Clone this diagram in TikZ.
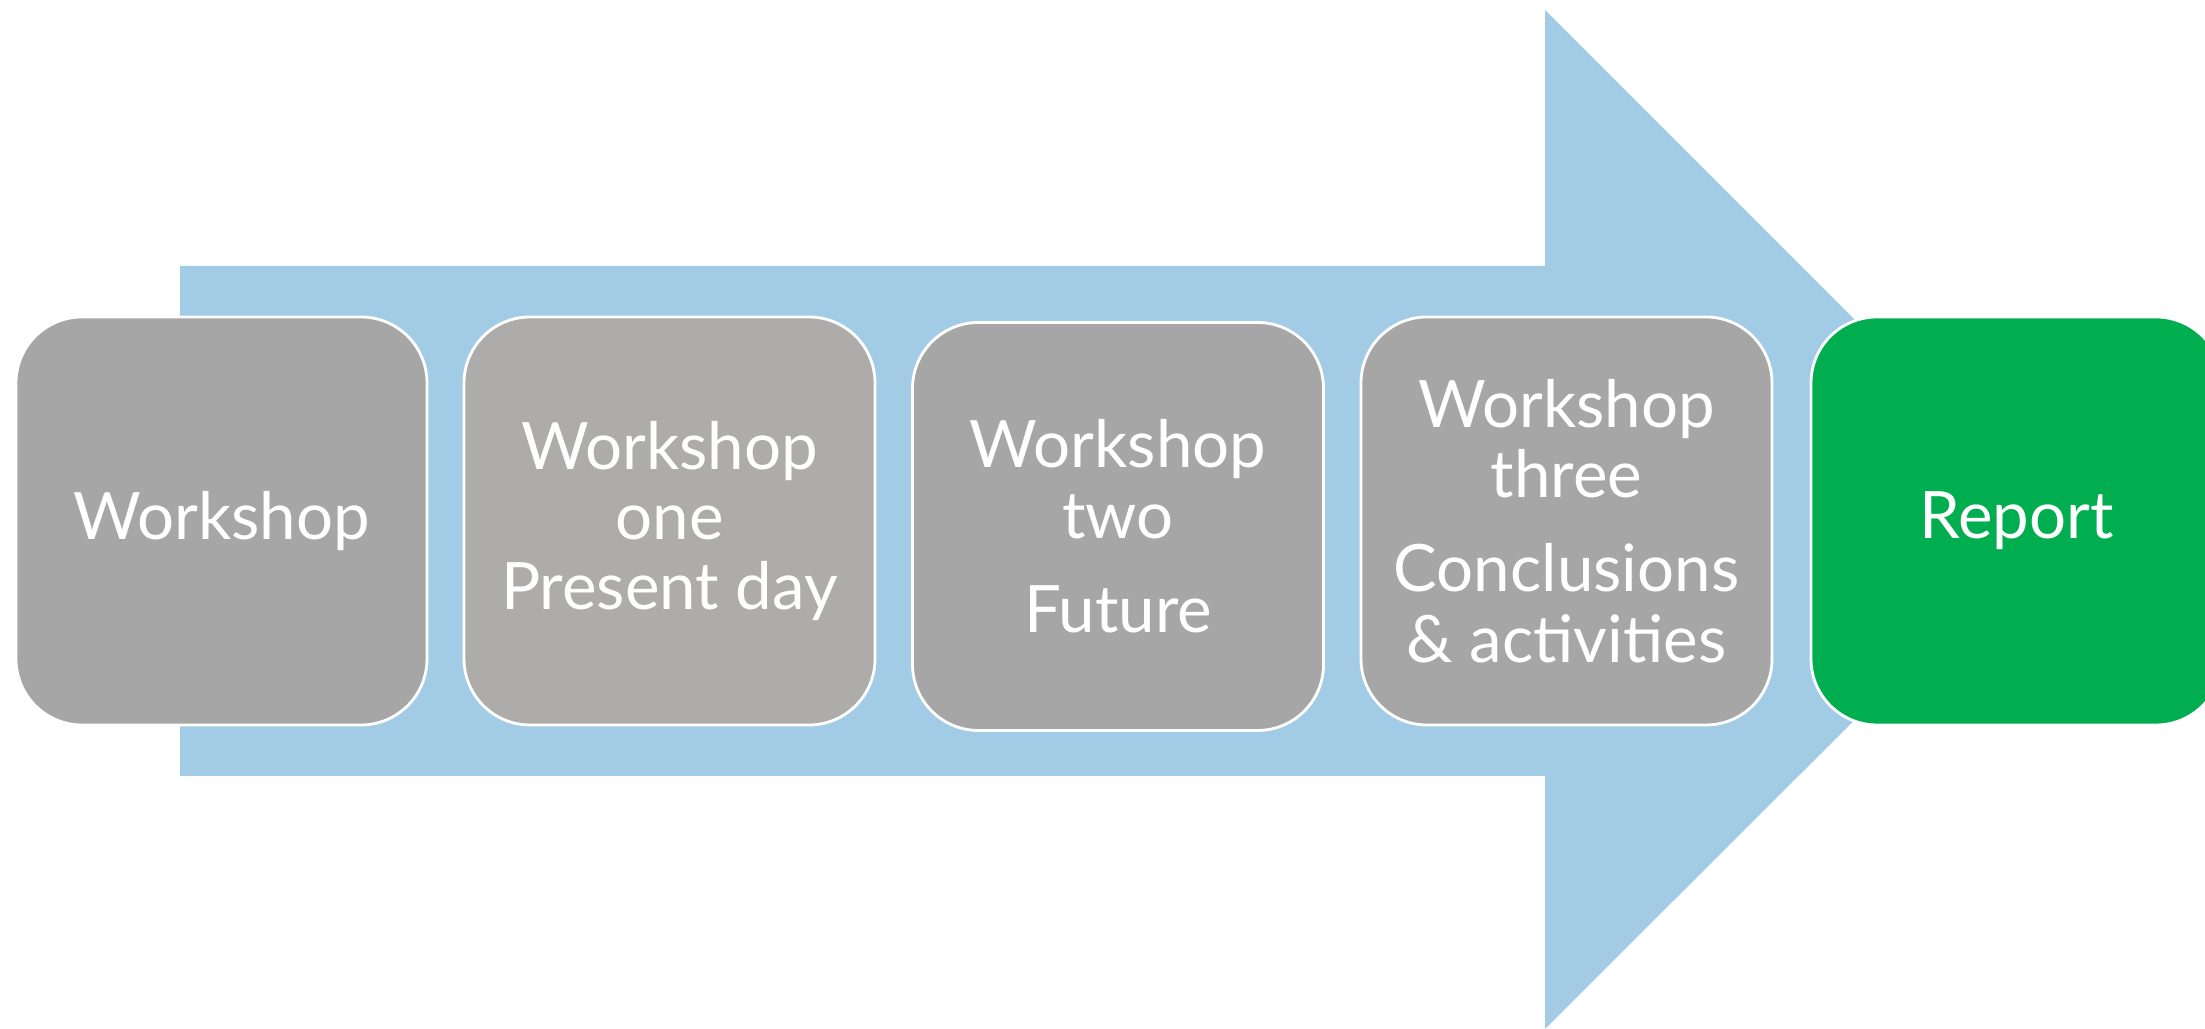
\documentclass[tikz,border=0pt]{standalone}
\usepackage{fontspec}
\setmainfont{Lato}

\definecolor{arrowblue}{HTML}{A2CCE6}
\definecolor{stagegray}{HTML}{A6A6A6}
\definecolor{stagelight}{HTML}{ADACAB}
\definecolor{reportgreen}{HTML}{00AE4F}

\tikzset{
  stage/.style = {rectangle,
      rounded corners = 0.66cm,
      draw = white,
      line width = 0.8pt,
      fill = stagegray,
      text = white,
      minimum width = 4.11cm,
      minimum height = 4.08cm,
      inner sep = 0pt,
      align = center,
      font = \fontsize{18.6}{20}\selectfont}
}

\begin{document}
\begin{tikzpicture}
\useasboundingbox (0,0) rectangle (22.05,10.29);
\clip (0,0) rectangle (22.05,10.29);

% big arrow behind the stages
\fill[arrowblue] (1.80,7.63) -- (15.45,7.63) -- (15.45,10.19) -- (20.55,5.09)
  -- (15.45,0) -- (15.45,2.53) -- (1.80,2.53) -- cycle;

% workshops
  \node[stage] (ws) at (2.215,5.08) {Workshop};

  \node[stage,
      fill = stagelight] (wsone) at (6.695,5.08) {Workshop\\one\\Present day};

  \node[stage] (wstwo) at (11.18,5.025) {Workshop\\two\\[0.24cm]Future};

  \node[stage] (wsthree) at (15.665,5.08) {Workshop\\three\\[0.24cm]Conclusions\\\& activities};

% report
  \node[stage,
      fill = reportgreen] (report) at (20.165,5.08) {Report};

\end{tikzpicture}
\end{document}
